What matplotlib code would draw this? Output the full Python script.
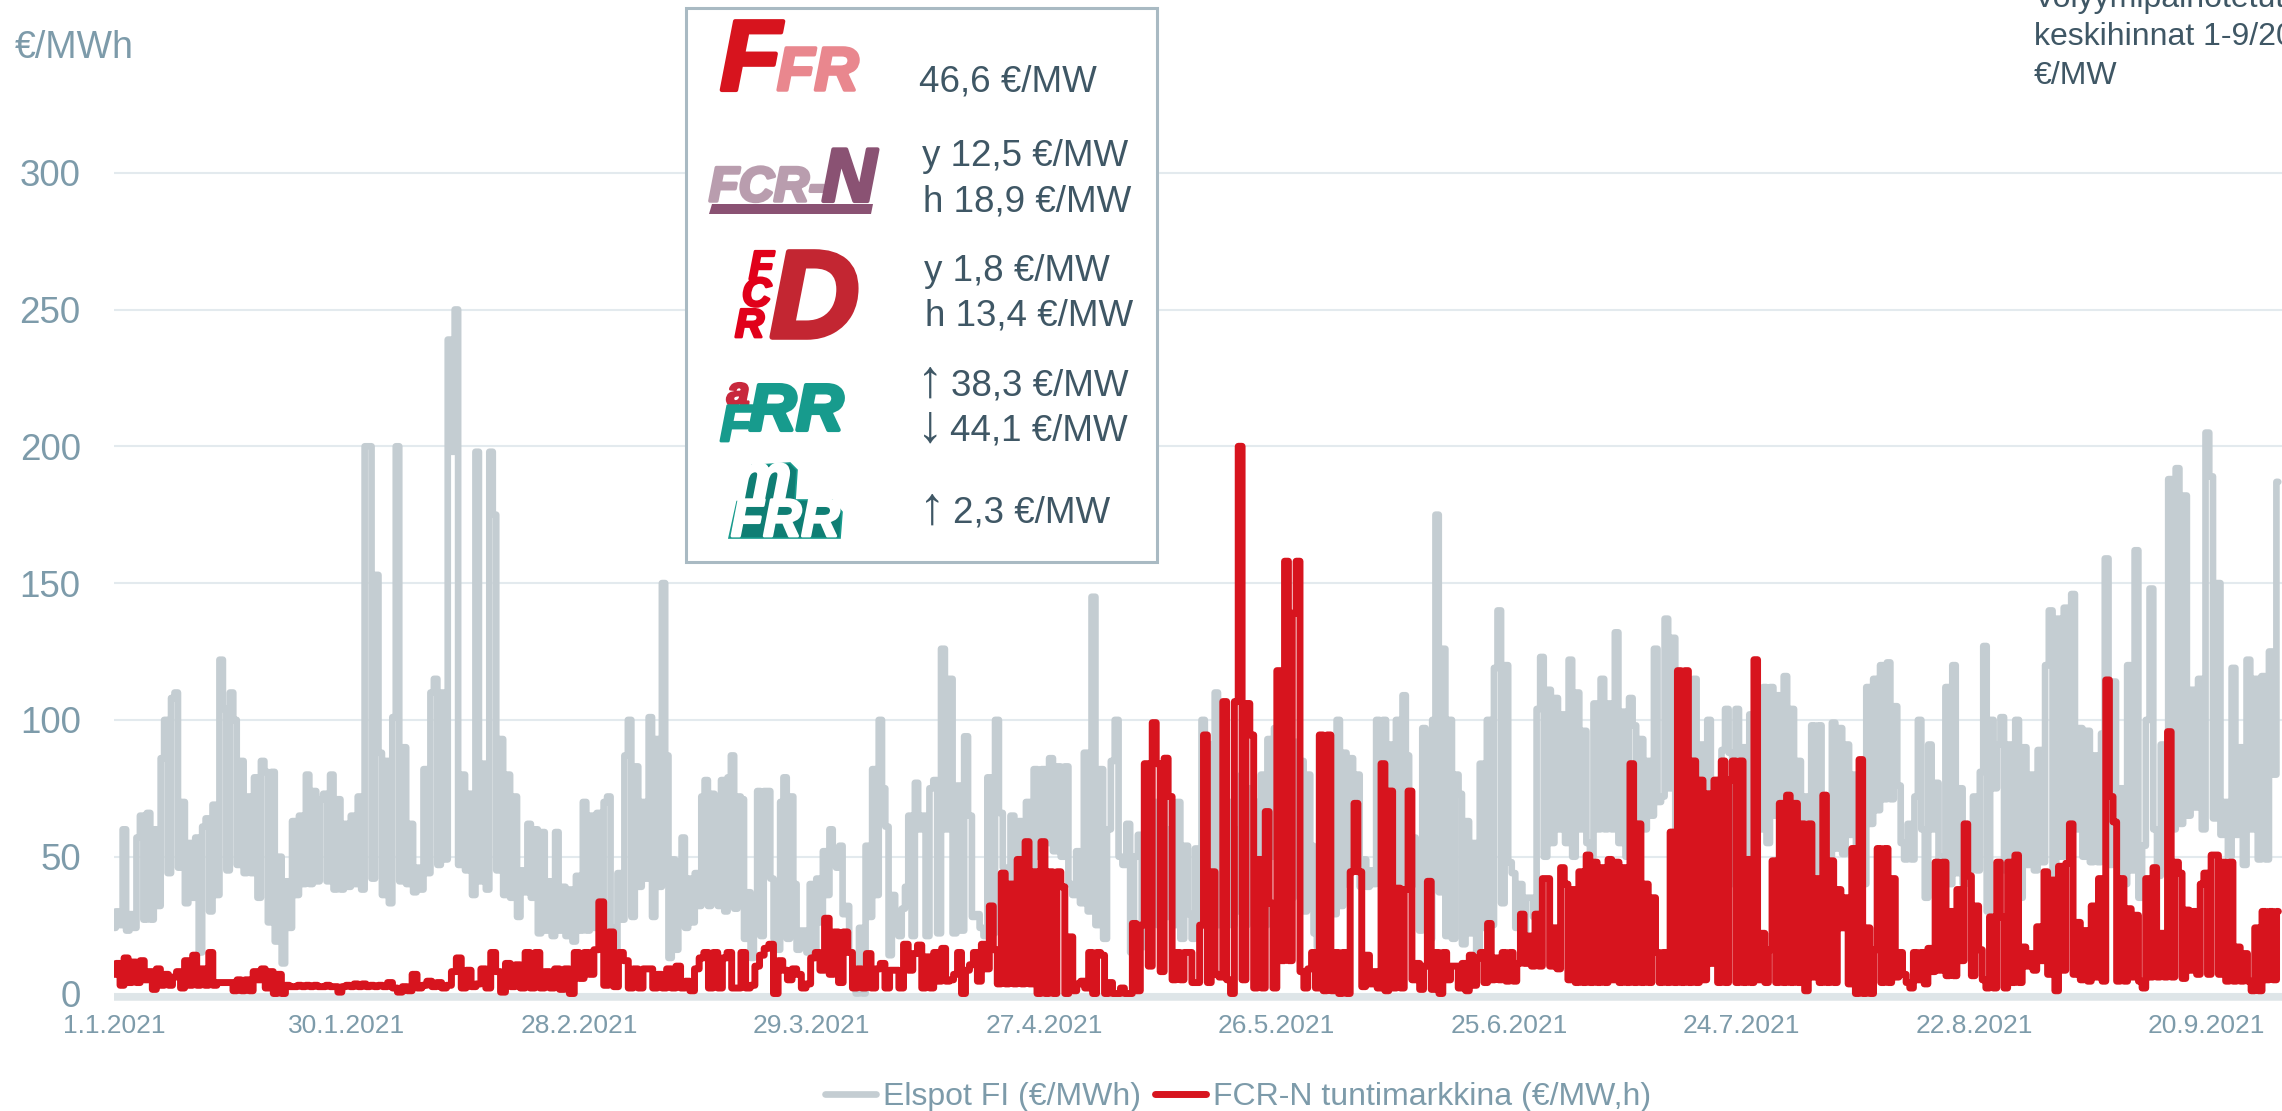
import numpy as np
import matplotlib
matplotlib.use("Agg")
import matplotlib.pyplot as plt
import matplotlib.patheffects as pe
from matplotlib.patches import Polygon, Rectangle

plt.rcParams['font.family'] = ['Liberation Sans', 'DejaVu Sans']

tick_labels = ["1.1.2021", "30.1.2021", "28.2.2021", "29.3.2021", "27.4.2021",
               "26.5.2021", "25.6.2021", "24.7.2021", "22.8.2021", "20.9.2021"]
y_ticks = [0, 50, 100, 150, 200, 250, 300]
chunk_end_days = [33.2, 66.9, 100.5, 134.2, 167.9, 201.6, 235.5, 270.4]

spot_1 = [24,30,25,60,23,29,24,57,65,27,66,27,60,32,86,100,44,108,110,46,70,33,55,35,57,15,61,64,30,69,36,122,104,45,110,100,47,85,44,72,44,79,35,85,81,26,81,19,50,11,41,24,63,36,65,40,80,40,74,41,71,73,41,80,38,71,38,62,39,65,40,72,38,200,200,42,153]
spot_2 = [88,36,85,33,101,200,41,90,40,62,37,46,38,82,44,110,115,47,110,49,239,198,250,47,80,45,73,36,198,41,84,38,198,175,45,93,36,80,35,72,28,45,37,62,35,60,22,59,23,41,21,59,23,39,21,38,19,43,23,70,23,65,24,66,25,70,72,24,16,44,27,87,100,28,83,39,70,42]
spot_3 = [101,28,93,39,150,87,13,49,16,48,57,24,42,26,44,32,72,78,32,73,71,32,78,30,79,87,31,72,71,20,37,13,24,74,21,74,74,42,20,16,70,79,20,72,40,16,23,23,15,40,16,42,26,52,36,60,52,46,54,29,32,15,11,0,24,0,54,28,82,36,100,75,61,14,36,27,21,31,39,65,21,77]
spot_4 = [60,65,21,75,78,22,126,60,115,22,76,23,94,65,28,29,24,21,79,22,100,66,46,20,65,40,63,40,70,45,82,50,82,55,86,52,83,50,83,40,36,52,33,88,30,145,25,82,20,60,85,100,50,47,62,15,50,58,17,59,30,70,25,72,28,60,25,70,20,54]
spot_5 = [29,20,53,25,100,30,91,35,110,25,80,25,70,25,60,30,80,25,75,30,70,30,80,25,93,50,97,45,90,40,85,35,92,40,85,30,80,54,22,17,60,20,70,87,29,100,32,88,40,86,45,80,39,49,39,45,40,100,45,100,50,91,55,100,32,109,87,50,57,40,23,97,93,20,100,175,37,126,21,100,20,80]
spot_6 = [73,18,63,22,55,13,84,24,100,25,119,140,33,120,48,44,24,40,21,35,35,28,104,123,50,111,55,108,60,102,55,122,50,110,60,96,55,50,106,60,115,60,106,60,132,55,103,50,108,98,52,93,60,85,65,126,70,72,137,75,130,50,107,60,40,45,115,40,91,45,100,50,60,40,89,104]
spot_7 = [88,40,104,35,90,44,102,50,109,60,112,55,112,65,109,60,116,55,104,50,85,45,72,40,98,42,98,50,72,40,99,53,97,51,91,58,80,51,70,40,112,62,115,67,120,71,121,71,105,76,55,49,62,49,72,100,60,35,91,60,77,45,50,112,40,120,44,75,40,50,45,72,45,81,127,30,100,75,91]
spot_8 = [101,45,91,40,100,35,90,47,80,45,89,48,120,140,44,137,50,141,55,146,60,97,50,96,48,87,48,95,159,47,114,50,75,40,120,45,162,35,54,100,148,60,43,91,50,188,60,192,62,182,65,111,68,115,60,205,189,64,150,58,70,50,119,58,90,47,122,60,115,49,116,49,125,80,187]

fcr_1 = [7,11,3,13,4,11.5,4,12,5,8,1.5,9,3,7,3,6,8,2,12,3,14,3,9,3,15,3,4,4,4,4,1,5,1,5,1,8,5,9,2,8,0,7,0,3,2.5,2.5,3,2.5,3,2.5,3,2.5,2.5,3,2.5,2.5,0.5,2.5,3,2.5,3.5,2.5,3.5,2.5,3,2.5]
fcr_2 = [3,2.5,4,2,0.5,2.5,1,7,2,3,4.5,2.5,4,2,3,8,13,2,8.5,2.5,3.5,9,2,15,8,0.5,11,2.5,10.5,2,15,2,15,2,8,2,9,1.5,9,0,15,5.5,15,7,16,33.5,3,22.5,2.5,15,12,2,9,2,9]
fcr_3 = [9,2,7,2,9,2,10,2,4.5,1,9,13,15,2,15,2,13,15,2,2,15,2,3,10,14,16.5,18,0,12,8.5,5,9,7,2,3.5,13,15,8.5,27.5,7,22.5,4,22.5,15,2,9,2,14.6,2,9,11,2,8.5,8.5,2,18,8.5,14.6]
fcr_4 = [17.7,2,13.4,2,15,4.5,16.5,4.5,5,7,15,0,8.5,10.5,15,4.5,18,9,32,16,3.5,44,3.5,40,3.5,49,3.5,55.5,3.5,44.5,0,55.5,0,44.5,0,44.5,39,0,20.7,1,3.5,4.5,2,15,0,15,14,0,4,0,0,2,0,0,25.6,1,25,84,10,99,84,8,86,72,5,15,5,15]
fcr_5 = [15,4,4,25,94.5,4,44.5,7,6,106.7,5,0,106.7,200,5,106,94.5,2,49,2,66.5,33,2,118,12,158,12,139,158,8,2,9,15,2,94.5,1,94.5,1,15,0,15,0,44.5,69.5,44.5,2.5,14,3.5,8,2,84,1,74,2,38.5,2,38,74,5,11,1.5,10,41,1.5,15,0,15,5,10,10]
fcr_6 = [2,11,1,14,3,13,15,4,25.6,5,13,5,15,4.5,15,4.5,11,29,11,21,10,29,10,42,42,10,24,9,46,40,5,38,4,44.5,4,50.6,4,48,4,46,4,49,5,48,4,46,4,84,4,62,4,40,4,35,15,4,15,4,59,4,118,4,118,4,85,4,78,5,73,11,78,4,85,4]
fcr_7 = [78,85,4,85,4,49,4,122,5,22,4,16,48.5,4,69.5,4,72.5,4,69.5,4,62,1,62,6,42,4,72.5,4,48.5,4,38,24,35,3.5,53,0,85.5,0,24,0,16,53,4,53,4,42,6,15,7,4,2,15,5,15,3.5,16.5,8,48,8.5,48,6.5,30,6.5,38,12,62,43,6.5,32,16,5,2,28,2,48]
fcr_8 = [28,2,48,4,50.6,4,17,10,14.6,8.5,24.4,12,44.5,7,41.5,1,46.5,8.5,47.6,62,7,26,5,23,4.5,32,6,42,4.5,114.6,72,62.7,4.5,42,4.5,31,6,28.6,4.5,2,42,6,46,6,22,6,95.7,6,48,44,5.5,30.5,8.5,30,7,40,44,7,50.6,50.6,7,48,4.5,48,4.5,17,4.5,14.6,4.5,1,24,1,30,5,30,5,30]

spot_chunks = [spot_1, spot_2, spot_3, spot_4, spot_5, spot_6, spot_7, spot_8]
fcr_chunks = [fcr_1, fcr_2, fcr_3, fcr_4, fcr_5, fcr_6, fcr_7, fcr_8]


def assemble(chunks):
    xs, ys = [], []
    start = 0.0
    for end, vals in zip(chunk_end_days, chunks):
        xs.append(np.linspace(start, end, len(vals), endpoint=False))
        ys.append(np.asarray(vals, dtype=float))
        start = end
    return np.concatenate(xs), np.concatenate(ys)


W, H = 2282, 1111
fig = plt.figure(figsize=(W / 100, H / 100), dpi=100, facecolor='white')
ytop_px, ybot_px = 993.5 - 340 * 2.736, 993.5 + 4 * 2.736
ax = fig.add_axes([114 / W, 1 - ybot_px / H, (W - 114) / W, (ybot_px - ytop_px) / H])
ax.set_xlim(0, 270.4)
ax.set_ylim(-4, 340)
for s in ax.spines.values():
    s.set_visible(False)

AXC = '#7D9BAA'
ax.set_axisbelow(True)
ax.set_yticks(y_ticks)
ax.set_xticks([k * 29 for k in range(len(tick_labels))])
ax.set_xticklabels(tick_labels)
ax.tick_params(axis='y', length=0, pad=24, labelsize=26.5, labelcolor=AXC)
ax.tick_params(axis='x', length=0, pad=7, labelsize=19, labelcolor=AXC)
ax.yaxis.grid(True, color='#E3EAEE', lw=1.5)
ax.axhline(-1.3, color='#DEE5E8', lw=5.4, zorder=1)

x1, y1 = assemble(spot_chunks)
x2, y2 = assemble(fcr_chunks)
l1, = ax.plot(x1, y1, color='#C4CDD2', lw=4.8, drawstyle='steps-mid', solid_joinstyle='round',
              solid_capstyle='round', zorder=2, label='Elspot FI (€/MWh)')
l2, = ax.plot(x2, y2, color='#D7141E', lw=5.0, drawstyle='steps-mid', solid_joinstyle='round',
              solid_capstyle='round', zorder=3, label='FCR-N tuntimarkkina (€/MW,h)')

leg = fig.legend(handles=[l1, l2], ncol=2, loc='center', bbox_to_anchor=(1238 / W, 1 - 1097 / H),
                 frameon=False, fontsize=23, labelcolor=AXC, handlelength=1.6, handletextpad=0.2,
                 columnspacing=0.45, borderpad=0, borderaxespad=0)

ov = fig.add_axes([0, 0, 1, 1], zorder=5)
ov.set_xlim(0, W)
ov.set_ylim(H, 0)
ov.axis('off')
ov.patch.set_alpha(0)


def T(x, y, s, size=26.5, color='#3F5765', logo=False, stroke=None, **kw):
    if logo:
        kw.update(fontweight='bold', fontstyle='italic')
    t = ov.text(x, y, s, fontsize=size, color=color, ha='left', va='baseline', **kw)
    if stroke:
        t.set_path_effects([pe.withStroke(linewidth=stroke, foreground=color)])
    return t


ov.text(15, 58, '€/MWh', fontsize=27, color=AXC, ha='left', va='baseline')

ov.add_patch(Rectangle((686, 8), 471, 554, fc='white', ec='#A9BAC3', lw=2.2))

for x, y, s in [(919, 91.6, '46,6 €/MW'), (922, 166.5, 'y 12,5 €/MW'), (923, 211.6, 'h 18,9 €/MW'),
                (924, 280.7, 'y 1,8 €/MW'), (925, 325, 'h 13,4 €/MW'),
                (951, 395.6, '38,3 €/MW'), (950, 440.7, '44,1 €/MW'), (953, 522.5, '2,3 €/MW')]:
    T(x, y, s)
for x, y, s in [(917, 397, '↑'), (917, 442, '↓'), (919, 524, '↑')]:
    T(x, y, s, size=38)

# FFR
T(720, 90, 'F', 72, '#D7141E', True, stroke=3)
T(777, 90, 'FR', 44, '#E9878E', True, stroke=2.5)
# FCR-N
T(709, 201, 'FCR-', 35, '#B99DAE', True, stroke=2.5)
T(822, 201, 'N', 54, '#8A5273', True, stroke=3)
ov.add_patch(Polygon([(712, 204), (873, 204), (871, 214), (709, 214)], fc='#8A5273', ec='none'))
# FCR-D
T(770, 337, 'D', 89, '#C32632', True, stroke=4)
ov.add_patch(Rectangle((773, 289), 34, 7, fc='white', ec='none'))
T(749, 279, 'F', 29, '#E1001A', True, stroke=2)
T(742, 306, 'C', 29, '#E1001A', True, stroke=2)
T(735, 337, 'R', 29, '#E1001A', True, stroke=2)
# aFRR
T(727, 405, 'a', 29, '#C8283C', True, stroke=2)
T(720, 441, 'F', 37, '#179B8D', True, stroke=2)
T(749, 430, 'RR', 47, '#179B8D', True, stroke=3)
# mFRR
ov.add_patch(Polygon([(745, 466), (790, 463), (797, 470), (795, 500), (832, 500), (842, 512), (840, 538),
                      (729, 538)], fc='#0F7E74', ec='#179B8D', lw=1.2))
T(733, 499, 'm', 47, 'white', True, stroke=2.5)
T(731, 536, 'FRR', 38, 'white', True, stroke=2)

for y, s in [(7, 'Volyymipainotetut'), (45, 'keskihinnat 1-9/2021'), (84, '€/MW')]:
    T(2034, y, s, 23)

fig.savefig('out.png', dpi=100, facecolor='white')
